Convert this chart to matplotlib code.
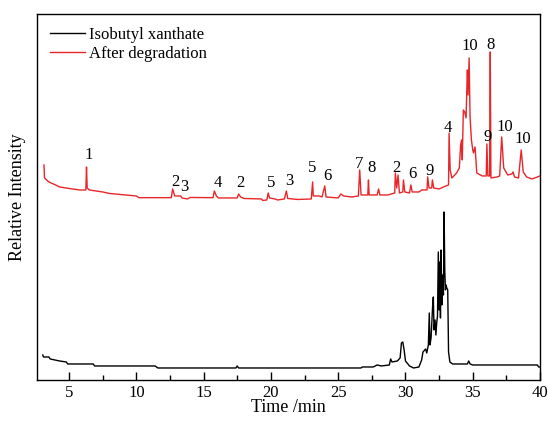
import numpy as np
import matplotlib.pyplot as plt
from matplotlib.ticker import MultipleLocator

plt.rcParams['font.family'] = ['Liberation Serif', 'DejaVu Serif']

# Isobutyl xanthate trace (time in min, relative intensity)
black_t = [3.05, 3.1, 3.5, 3.6, 4.3, 4.8, 4.9, 6.8, 6.9, 11.4, 11.6, 17.4, 17.5, 17.6,
           26.7, 26.8, 27.3, 27.6, 27.9, 28.2, 28.8, 28.9, 29.0, 29.4, 29.6, 29.7, 29.8,
           29.9, 30.0, 30.3, 30.6, 31.0, 31.2, 31.3, 31.5, 31.58, 31.7, 31.77, 31.82,
           31.9, 31.95, 32.02, 32.07, 32.12, 32.2, 32.26, 32.32, 32.38, 32.44, 32.5,
           32.55, 32.6, 32.64, 32.7, 32.76, 32.82, 32.87, 32.92, 32.97, 33.02, 33.07,
           33.14, 33.2, 33.3, 33.5, 34.6, 34.7, 34.8, 35.0, 39.8, 39.9, 40.0]
black_y = [25, 23, 23, 21, 19, 18, 16, 16, 14, 14, 12, 12, 14, 12,
           12, 13, 13, 13, 15, 14, 15, 21, 18, 19, 22, 37, 38,
           30, 19, 14, 12, 13, 20, 28, 31, 27, 35, 67, 35,
           42, 55, 75, 83, 50, 60, 45, 57, 64, 128, 70,
           118, 62, 130, 75, 105, 85, 168, 110, 90, 95, 92,
           90, 28, 18, 16, 16, 19, 16, 15, 15, 13, 13]

# After degradation trace
red_t = [3.14, 3.18, 3.5, 4.0, 4.3, 5.0, 5.8, 6.25, 6.3, 6.35, 6.5, 7.5, 8.0, 10.0, 10.2,
         12.6, 12.7, 12.85, 13.3, 13.4, 13.8, 14.0, 15.7, 15.8, 15.95, 16.1, 17.5, 17.6,
         17.75, 18.0, 19.3, 19.4, 19.7, 19.8, 19.9, 20.3, 20.5, 21.0, 21.15, 21.25, 22.0,
         23.0, 23.1, 23.15, 23.6, 23.8, 24.0, 24.1, 25.0, 25.2, 25.4, 26.0, 26.5, 26.6,
         26.7, 27.2, 27.25, 27.3, 27.9, 28.0, 28.1, 28.7, 29.2, 29.25, 29.35, 29.45,
         29.55, 29.8, 29.85, 29.95, 30.3, 30.4, 30.5, 31.0, 31.2, 31.6, 31.65, 31.75,
         31.95, 32.0, 32.1, 32.5, 33.0, 33.2, 33.24, 33.32, 33.45, 33.8, 34.0, 34.1,
         34.17, 34.22, 34.3, 34.4, 34.5, 34.6, 34.65, 34.73, 34.8, 34.9, 35.0, 35.05,
         35.17, 35.3, 35.7, 36.0, 36.05, 36.12, 36.25, 36.3, 36.35, 36.8, 37.0, 37.15,
         37.3, 37.6, 37.9, 38.0, 38.1, 38.4, 38.6, 38.75, 39.0, 39.4, 39.8, 40.0]
red_y = [215, 202, 198, 195, 193, 191.5, 190, 190, 213, 192, 190, 188, 186.5, 184, 182.3,
         182.3, 191, 184, 184, 182, 181, 182.5, 182.3, 189, 184, 182, 182, 186,
         183, 181.5, 181, 179.5, 180, 187, 182, 181, 180, 181, 189, 181.5, 180.5,
         181, 198, 184, 184, 183, 194, 183, 182, 186, 184, 183, 184, 210,
         185, 185, 200, 185, 185, 191, 185, 185, 187, 207, 192, 205,
         187, 188, 200, 188, 187, 195, 188, 188, 190, 190, 203, 192,
         192, 200, 192, 191, 194, 195, 247, 210, 202, 207, 212, 235,
         240, 220, 270, 268, 262, 310, 285, 322, 263, 240, 230, 227,
         233, 207, 204, 204, 236, 204, 204, 328, 202, 203, 204, 243,
         212, 205, 206, 208, 203, 202, 230, 208, 203, 201, 203, 204]

# peak labels
peak_labels = ['1', '2', '3', '4', '2', '5', '3', '5', '6', '7', '8', '2', '6', '9',
               '4', '10', '8', '9', '10', '10']
peak_t = [6.43, 12.88, 13.55, 16.02, 17.71, 20.01, 21.35, 23.08, 24.22, 26.55, 27.49,
          29.30, 30.54, 31.83, 33.11, 34.75, 36.31, 36.08, 37.40, 38.71]
peak_y = [225, 198.3, 192.7, 196.7, 197.3, 196.7, 199, 212, 204, 216, 211.7, 212.3,
          205.7, 209, 251.7, 334, 335, 243.3, 253.3, 240.7]

fig = plt.figure(figsize=(5.48, 4.23), dpi=100)
ax = fig.add_axes([0.0675, 0.1017, 0.918, 0.8653])

ax.plot(black_t, black_y, color='black', lw=1.0, label='Isobutyl xanthate')
ax.plot(red_t, red_y, color='#e8262a', lw=1.0, label='After degradation')

for lab, t, y in zip(peak_labels, peak_t, peak_y):
    ax.text(t, y, lab, ha='center', va='center', fontsize=12)

ax.set_xlim(2.62, 40)
ax.set_ylim(0, 366)
ax.xaxis.set_major_locator(MultipleLocator(5))
ax.xaxis.set_minor_locator(MultipleLocator(2.5))
ax.tick_params(axis='x', which='major', direction='in', length=6, width=1,
               labelsize=12, top=False)
ax.tick_params(axis='x', which='minor', direction='in', length=3.5, width=1, top=False)
ax.set_yticks([])
for s in ax.spines.values():
    s.set_linewidth(1.0)

ax.set_xlabel('Time /min', fontsize=13, labelpad=-1)
ax.set_ylabel('Relative Intensity', fontsize=13, labelpad=8)

ax.legend(loc='upper left', frameon=False, fontsize=12, handlelength=2.1,
          handletextpad=0.25, labelspacing=0.15, borderaxespad=0.4,
          bbox_to_anchor=(0.0, 1.0))

fig.savefig('out.png', dpi=100)
